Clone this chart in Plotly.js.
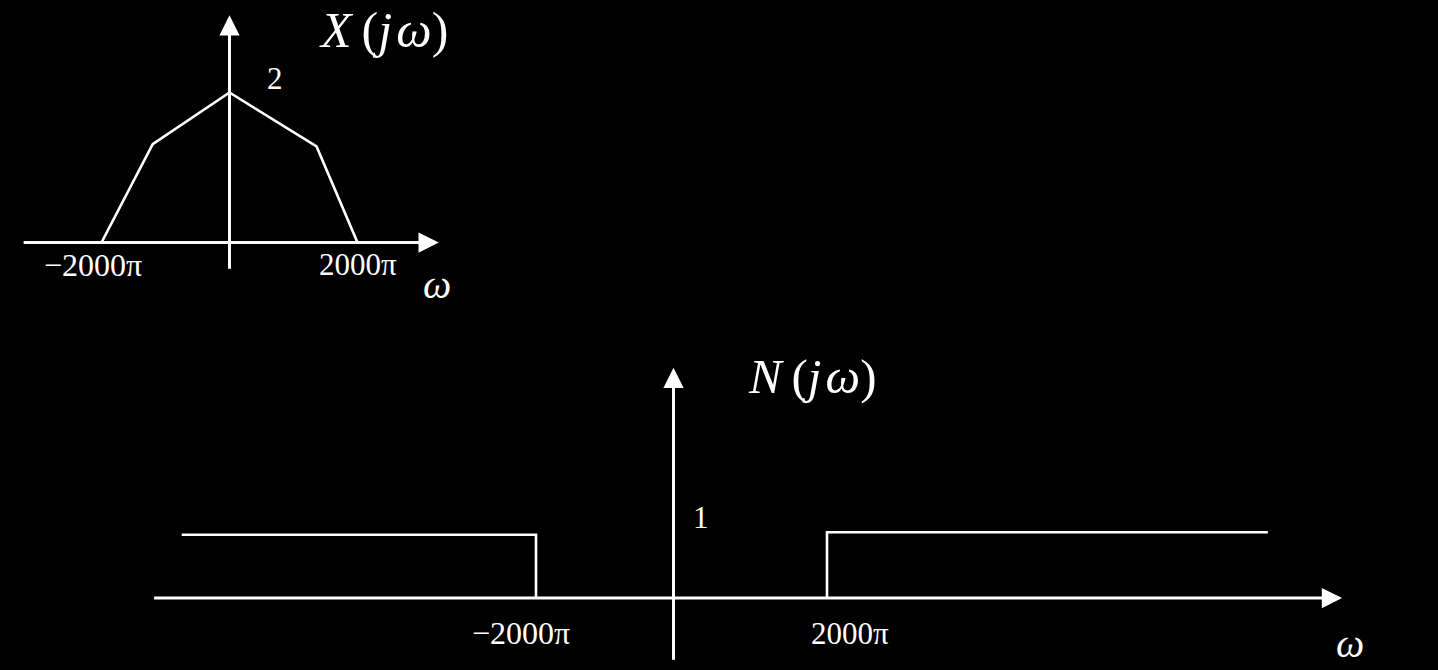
<!DOCTYPE html>
<html>
<head>
<meta charset="utf-8">
<script src="https://cdn.plot.ly/plotly-3.0.1.min.js"></script>
<style>html,body{margin:0;padding:0;background:#000;}#chart{width:1438px;height:670px;}</style>
</head>
<body>
<div id="chart"></div>
<script>
// ---- data (x in units of 1000π) ----
const X_w   = [-2, -1.2, 0, 1.36, 2];
const X_mag = [0, 1.31, 2, 1.28, 0];
const X_ticks = [-2, 2];
const X_tickText = ['\u22122000\u03c0', '2000\u03c0'];
const X_peakLabel = '2';

const N_leftW    = [-6.76, -1.89, -1.89];
const N_leftMag  = [0.98, 0.98, 0];
const N_rightW   = [2.11, 2.11, 8.17];
const N_rightMag = [0, 1.02, 1.02];
const N_ticks = [-1.89, 2.11];
const N_tickText = ['\u22122000\u03c0', '2000\u03c0'];
const N_levelLabel = '1';

// axis extents
const topAxisW = [-3.24, 3.27];
const topAxisMag = [-0.37, 3.03];
const botAxisW = [-7.16, 9.19];
const botAxisMag = [-0.98, 3.57];

const FONT = '"Liberation Serif", "DejaVu Serif", serif';
const W = 'white';

const traces = [
  {x: X_w, y: X_mag, xaxis: 'x', yaxis: 'y', mode: 'lines',
   line: {color: W, width: 2.6}, hoverinfo: 'skip'},
  {x: N_leftW, y: N_leftMag, xaxis: 'x2', yaxis: 'y2', mode: 'lines',
   line: {color: W, width: 2.6}, hoverinfo: 'skip'},
  {x: N_rightW, y: N_rightMag, xaxis: 'x2', yaxis: 'y2', mode: 'lines',
   line: {color: W, width: 2.6}, hoverinfo: 'skip'}
];

function arrow(xr, yr, x, y, ax, ay) {
  return {xref: xr, yref: yr, axref: xr, ayref: yr, x: x, y: y, ax: ax, ay: ay,
    text: '', showarrow: true, arrowhead: 2, arrowsize: 1.35, arrowwidth: 3,
    arrowcolor: W, standoff: 0, startstandoff: 0};
}
function label(xr, yr, x, y, text, size, xs, ys) {
  return {xref: xr, yref: yr, x: x, y: y, text: text, showarrow: false,
    xanchor: 'center', yanchor: 'middle', xshift: xs || 0, yshift: ys || 0,
    font: {family: FONT, size: size, color: W}};
}

const annotations = [
  // top axes
  arrow('x', 'y', topAxisW[1], 0, topAxisW[0], 0),
  arrow('x', 'y', 0, topAxisMag[1], 0, topAxisMag[0]),
  // bottom axes
  arrow('x2', 'y2', botAxisW[1], 0, botAxisW[0], 0),
  arrow('x2', 'y2', 0, botAxisMag[1], 0, botAxisMag[0]),
  // top labels
  label('x', 'y', X_ticks[0], 0, X_tickText[0], 32, -9, -22),
  label('x', 'y', X_ticks[1], 0, X_tickText[1], 31, 0, -22),
  label('x', 'y', 0, X_mag[2], X_peakLabel, 31, 45, 14),
  label('x', 'y', topAxisW[1], 0, '<i>\u03c9</i>', 40, -2, -42),
  label('x', 'y', 2.4, 2.83, '<i>X</i>\u2009(<i>j</i>\u200a<i>\u03c9</i>)', 50, 0, 0),
  // bottom labels
  label('x2', 'y2', N_ticks[0], 0, N_tickText[0], 32, -15, -35),
  label('x2', 'y2', N_ticks[1], 0, N_tickText[1], 31, 23, -35),
  label('x2', 'y2', 0, 1, N_levelLabel, 31, 27, 16),
  label('x2', 'y2', botAxisW[1], 0, '<i>\u03c9</i>', 40, 8, -45),
  label('x2', 'y2', 1.9, 3.44, '<i>N</i>\u2009(<i>j</i>\u200a<i>\u03c9</i>)', 49, 0, 0)
];

const hidden = {visible: false, showgrid: false, zeroline: false, fixedrange: true};

const layout = {
  width: 1438, height: 670,
  margin: {l: 0, r: 0, t: 0, b: 0, pad: 0},
  paper_bgcolor: '#000', plot_bgcolor: 'rgba(0,0,0,0)',
  showlegend: false,
  xaxis:  Object.assign({}, hidden, {domain: [0, 1], range: [-3.5859, 18.883], anchor: 'y'}),
  yaxis:  Object.assign({}, hidden, {domain: [0, 1], range: [-5.7, 3.2333], anchor: 'x'}),
  xaxis2: Object.assign({}, hidden, {domain: [0, 1], range: [-9.2577, 10.5086], anchor: 'y2'}),
  yaxis2: Object.assign({}, hidden, {domain: [0, 1], range: [-1.1163, 9.2713], anchor: 'x2'}),
  annotations: annotations
};

Plotly.newPlot('chart', traces, layout, {displayModeBar: false, staticPlot: true});
</script>
</body>
</html>
